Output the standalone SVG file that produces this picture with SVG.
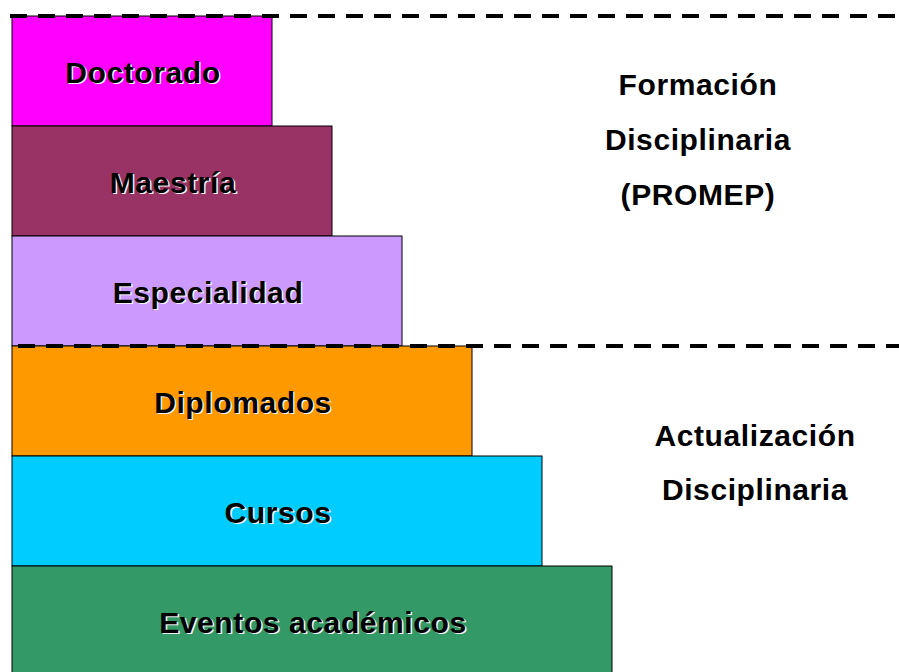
<svg xmlns="http://www.w3.org/2000/svg" width="899" height="672" viewBox="0 0 899 672">
<style>
.box{stroke:#000;stroke-width:1}
.lbl{font-family:"Liberation Sans",Arial,sans-serif;font-weight:bold;font-size:30px;letter-spacing:0.6px;text-anchor:middle}
.sh{fill:#f2f2f2}
.fg{fill:#000}
.side{font-family:"Liberation Sans",Arial,sans-serif;font-weight:bold;font-size:30px;letter-spacing:0.6px;text-anchor:middle;fill:#000}
.dash{stroke:#000;stroke-width:4;stroke-dasharray:17 11;fill:none}
</style>
<rect width="899" height="672" fill="#fff"/>
<g id="doctorado">
<rect class="box" x="12" y="16" width="260" height="110" fill="#FF00FF"/>
<text class="lbl sh" x="144.5" y="84">Doctorado</text>
<text class="lbl fg" x="143" y="82.5">Doctorado</text>
</g>
<g id="maestria">
<rect class="box" x="12" y="126" width="320" height="110" fill="#993366"/>
<text class="lbl sh" x="174.5" y="194">Maestría</text>
<text class="lbl fg" x="173" y="192.5">Maestría</text>
</g>
<g id="especialidad">
<rect class="box" x="12" y="236" width="390" height="110" fill="#CC99FF"/>
<text class="lbl sh" x="209.5" y="304">Especialidad</text>
<text class="lbl fg" x="208" y="302.5">Especialidad</text>
</g>
<g id="diplomados">
<rect class="box" x="12" y="346" width="460" height="110" fill="#FF9900"/>
<text class="lbl sh" x="244.5" y="414">Diplomados</text>
<text class="lbl fg" x="243" y="412.5">Diplomados</text>
</g>
<g id="cursos">
<rect class="box" x="12" y="456" width="530" height="110" fill="#00CCFF"/>
<text class="lbl sh" x="279.5" y="524">Cursos</text>
<text class="lbl fg" x="278" y="522.5">Cursos</text>
</g>
<g id="eventos">
<rect class="box" x="12" y="566" width="600" height="110" fill="#339966"/>
<text class="lbl sh" x="314.5" y="634">Eventos académicos</text>
<text class="lbl fg" x="313" y="632.5">Eventos académicos</text>
</g>
<g id="connectors">
<line class="dash" x1="10" y1="16" x2="899" y2="16"/>
<line class="dash" x1="18" y1="346" x2="899" y2="346"/>
</g>
<g id="formacion">
<text class="side" x="698" y="95">Formación</text>
<text class="side" x="698" y="150">Disciplinaria</text>
<text class="side" x="698" y="205">(PROMEP)</text>
</g>
<g id="actualizacion">
<text class="side" x="755" y="446">Actualización</text>
<text class="side" x="755" y="500">Disciplinaria</text>
</g>
</svg>
